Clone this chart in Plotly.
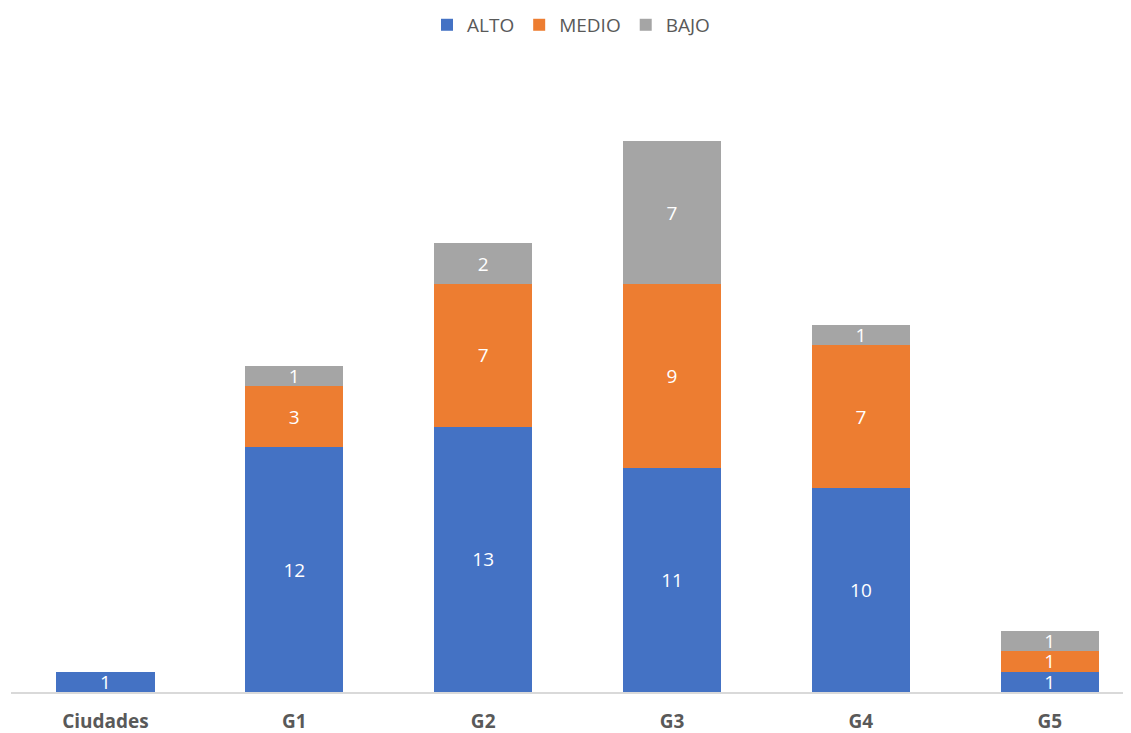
import plotly.graph_objects as go

categories = ["Ciudades", "G1", "G2", "G3", "G4", "G5"]
alto = [1, 12, 13, 11, 10, 1]
medio = [None, 3, 7, 9, 7, 1]
bajo = [None, 1, 2, 7, 1, 1]

series = [
    ("ALTO", alto, "#4472C4"),
    ("MEDIO", medio, "#ED7D31"),
    ("BAJO", bajo, "#A5A5A5"),
]

FONT = "Open Sans, DejaVu Sans, sans-serif"

fig = go.Figure()
for name, values, color in series:
    fig.add_trace(go.Bar(
        name=name,
        x=categories,
        y=values,
        marker=dict(color=color, line=dict(width=0)),
        text=values,
        textposition="inside",
        insidetextanchor="middle",
        textangle=0,
        constraintext="none",
        textfont=dict(color="white", size=19, family=FONT),
    ))

# the page body has an 8px margin, so the figure is shrunk to fit the window
fig.update_layout(
    barmode="stack",
    bargap=0.48,
    width=1123,
    height=725,
    paper_bgcolor="white",
    plot_bgcolor="white",
    margin=dict(l=3, r=0, t=72, b=41, autoexpand=False),
    font=dict(family=FONT, color="#595959"),
    uniformtext=dict(minsize=17, mode="show"),
    legend=dict(
        orientation="h",
        x=0.5,
        xanchor="center",
        y=1.09,
        yanchor="middle",
        font=dict(size=19, color="#595959"),
        traceorder="normal",
        itemwidth=30,
    ),
    xaxis=dict(
        range=[-0.5, 5.43],
        showline=True,
        linecolor="#D9D9D9",
        linewidth=2,
        ticks="outside",
        ticklen=11,
        tickcolor="rgba(0,0,0,0)",
        tickfont=dict(size=19, color="#595959", family=FONT, weight="bold"),
        showgrid=False,
    ),
    yaxis=dict(
        range=[0, 30],
        visible=False,
        showgrid=False,
    ),
)

fig.write_html("out.html")
